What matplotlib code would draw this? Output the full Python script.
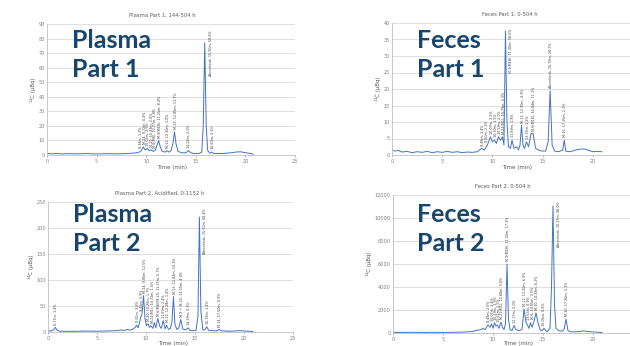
import numpy as np
import matplotlib
matplotlib.use("Agg")
import matplotlib.pyplot as plt

# ---------------- data ----------------
# Plasma Part 1, 144-504 h
p1_time = [0, 0.5, 1, 1.5, 2, 3, 4, 5, 6, 7, 8, 8.5, 9, 9.3, 9.5, 9.7, 9.9, 10.1, 10.3, 10.5,
           10.7, 10.9, 11.1, 11.25, 11.4, 11.6, 11.9, 12.1, 12.3, 12.5, 12.7, 12.85, 13.0, 13.2,
           13.6, 14.0, 14.25, 14.5, 14.8, 15.3, 15.6, 15.75, 15.9, 16.05, 16.2, 16.45, 16.6,
           16.75, 17, 17.5, 18, 18.5, 19, 19.5, 20, 20.5, 20.8]
p1_ubq = [1.2, 0.8, 1.0, 0.7, 0.9, 0.8, 1.0, 0.7, 0.9, 0.8, 1.0, 1.2, 1.5, 2, 3, 5.5, 3.5, 4.5,
          3, 3.5, 2.5, 3, 7, 10, 6, 2.5, 2, 3, 2, 3, 8, 16, 8, 2.5, 1.5, 1.5, 3, 1.5, 1, 1, 2,
          20, 77, 20, 3, 1.2, 2, 1.2, 1, 1, 1.2, 1.5, 2, 2.2, 1.6, 1, 0.5]
p1_labels = ["9.38m, 1.3%", "M-24, 9.72m, 4.4%", "10.05m, 2.5%", "M-20, 10.43m, 2.0%",
             "M-6(M8), 10.77m, 1.8%", "M-9(M18), 11.25m, 8.4%", "M-11, 12.10m, 1.0%",
             "M-13, 12.85m, 11.7%", "14.28m, 2.0%", "Abrocitinib, 15.90m, 58.6%",
             "16.60m, 2.2%"]
p1_label_time = [9.4, 9.75, 10.1, 10.45, 10.8, 11.25, 12.1, 12.85, 14.25, 15.9, 16.6]

# Feces Part 1, 0-504 h
f1_time = [0, 0.3, 0.6, 1, 1.5, 2, 2.5, 3, 3.5, 4, 4.5, 5, 5.5, 6, 6.5, 7, 7.5, 8, 8.5, 8.9,
           9.2, 9.5, 9.8, 10.0, 10.2, 10.4, 10.6, 10.8, 11.0, 11.15, 11.3, 11.45, 11.6, 11.8,
           11.95, 12.15, 12.4, 12.6, 12.75, 12.9, 13.05, 13.2, 13.4, 13.6, 13.85, 14.05, 14.3,
           14.6, 14.9, 15.3, 15.55, 15.75, 15.95, 16.2, 16.6, 17.0, 17.15, 17.3, 17.6, 18,
           18.4, 18.8, 19.2, 19.6, 20, 20.5, 20.9]
f1_ubq = [1.5, 1.2, 1.4, 0.9, 1.1, 0.7, 1.0, 0.8, 1.1, 0.7, 1.0, 0.8, 1.1, 0.8, 1.0, 0.7, 0.9,
          0.8, 1.0, 2, 1.5, 3, 5.5, 4, 4.5, 3.5, 5.5, 4.5, 5.5, 3, 37.5, 10, 2.5, 2, 4.5, 2,
          2.5, 1.5, 3, 9, 3, 2, 4, 2.5, 6.5, 6.5, 2, 1.5, 1.2, 1.2, 4, 19.5, 3, 1.2, 1.0, 1.5,
          4.5, 1.2, 1.0, 1.2, 1.6, 1.8, 1.8, 1.4, 1.0, 1.1, 1.0]
f1_labels = ["9.48m, 1.4%", "9.80m, 2.1%", "10.07m, 2.2%", "10.30m, 1.5%",
             "10.59m, 2.0%", "M-22(M1), 10.79m, 4.3%", "M-9(M18), 11.30m, 38.5%",
             "11.89m, 1.8%", "M-11, 12.90m, 4.3%", "13.38m, 1.2%",
             "M-6(M16), 14.04m, 11.1%", "Abrocitinib, 15.75m, 26.7%", "M-16, 17.15m, 2.1%"]
f1_label_time = [9.0, 9.4, 9.8, 10.2, 10.6, 11.0, 11.3, 11.95, 12.9, 13.4, 14.05, 15.75, 17.15]

# Plasma Part 2, Acidified, 0-1152 h
p2_time = [0, 0.3, 0.55, 0.75, 0.95, 1.2, 1.6, 2, 3, 4, 5, 6, 7, 7.5, 7.8, 8.1, 8.4, 8.7, 8.9,
           9.05, 9.2, 9.45, 9.6, 9.75, 9.9, 10.05, 10.2, 10.35, 10.5, 10.7, 10.85, 11.0, 11.2,
           11.4, 11.55, 11.75, 11.95, 12.1, 12.3, 12.5, 12.65, 12.8, 12.95, 13.15, 13.35,
           13.55, 13.75, 14.0, 14.3, 14.5, 14.8, 15.1, 15.3, 15.45, 15.6, 15.8, 16.0, 16.2,
           16.4, 16.8, 17.2, 17.45, 17.7, 18, 18.5, 19, 19.5, 20, 20.5, 20.9]
p2_ubq = [2, 2, 4, 9, 3, 1.5, 1.5, 1.2, 1.5, 1.8, 1.5, 2, 2.5, 4, 3, 5, 3.5, 6, 9, 13, 8, 27,
          35, 70, 25, 12, 16, 9, 12, 7, 18, 8, 26, 11, 7, 22, 6, 13, 5, 7, 20, 68, 15, 5, 8,
          24, 6, 4, 8, 3, 2.5, 3, 30, 221, 40, 4, 4, 10, 3, 2.5, 2, 5, 2, 2, 1.5, 2, 2.5, 2,
          1.5, 1]
p2_labels = ["0.77m, 1.4%", "9.00m, 3.8%", "9.45m, 5.9%", "M-24, 9.85m, 12.5%",
             "M-20, 10.26m, 1.7%", "M-22(M1), 10.72m, 1.5%", "M-6(M8)/M-20, 11.37m, 5.7%",
             "11.69m, 2.4%", "M-11, 12.28m, 1.4%", "M-13, 12.83m, 13.3%",
             "M-9 + M-15, 13.55m, 4.0%", "14.39m, 0.3%", "Abrocitinib, 15.50m, 68.4%",
             "16.18m, 1.4%", "M-14, 17.50m, 0.5%"]
p2_label_time = [0.75, 9.05, 9.45, 9.8, 10.2, 10.6, 11.2, 11.75, 12.1, 12.8, 13.55, 14.3,
                 15.45, 16.2, 17.45]

# Feces Part 2, 0-504 h
f2_time = [0, 1, 2, 3, 4, 5, 6, 7, 7.5, 8, 8.5, 8.8, 9.0, 9.2, 9.5, 9.7, 9.85, 10.0, 10.15,
           10.3, 10.45, 10.6, 10.8, 10.95, 11.1, 11.25, 11.4, 11.55, 11.7, 11.9, 12.1, 12.3,
           12.6, 12.9, 13.1, 13.3, 13.45, 13.6, 13.75, 13.9, 14.1, 14.3, 14.5, 14.7, 14.9,
           15.1, 15.4, 15.7, 15.85, 16.0, 16.15, 16.3, 16.6, 16.9, 17.1, 17.3, 17.5, 17.8,
           18.2, 18.6, 19, 19.4, 19.8, 20.2, 20.6, 20.9]
f2_ubq = [60, 50, 60, 50, 60, 50, 60, 80, 100, 150, 250, 300, 400, 300, 700, 500, 800, 400,
          900, 600, 700, 400, 950, 500, 300, 800, 6000, 1200, 300, 200, 650, 300, 200, 300,
          2100, 900, 700, 400, 900, 500, 1000, 1750, 900, 300, 200, 400, 100, 400, 4000,
          11050, 2500, 400, 200, 150, 300, 1200, 200, 100, 100, 120, 180, 150, 100, 80, 60, 40]
f2_labels = ["9.48m, 2.6%", "10.07m, 2.4%", "10.29m, 1.9%", "10.61m, 2.5%",
             "M-22(M1), 10.88m, 3.6%", "M-9(M18), 11.50m, 17.3%", "12.17m, 2.0%",
             "M-11, 13.20m, 6.0%", "13.63m, 0.9%", "M-6, 14.05m, 3.5%",
             "M-10, 14.39m, 6.2%", "15.06m, 0.6%", "Abrocitinib, 16.17m, 48.0%",
             "M-16, 17.30m, 3.1%"]
f2_label_time = [9.5, 9.85, 10.15, 10.45, 10.8, 11.4, 12.1, 13.1, 13.45, 13.9, 14.3, 15.0,
                 16.0, 17.3]

titles = ["Plasma Part 1, 144-504 h", "Feces Part 1, 0-504 h",
          "Plasma Part 2, Acidified, 0-1152 h", "Feces Part 2, 0-504 h"]
overlay = ["Plasma\nPart 1", "Feces\nPart 1", "Plasma\nPart 2", "Feces\nPart 2"]
y_max = [90, 40, 250, 12000]
y_step = [10, 5, 50, 2000]
x_tick_max = [25, 20, 25, 20]

# ---------------- drawing ----------------
W, H = 630, 346
fig = plt.figure(figsize=(W / 100, H / 100), dpi=100)
plt.rcParams['font.family'] = ['DejaVu Sans']


def px_axes(l, r, t, b):
    return [l / W, 1 - b / H, (r - l) / W, (b - t) / H]


rects = [px_axes(47, 295, 24, 155), px_axes(392, 643, 23, 155),
         px_axes(48, 293, 202, 332), px_axes(393, 643, 195, 333)]
title_xy = [(162, 15), (510, 14), (160, 193), (503, 186)]
overlay_xy = [(72, 29), (417, 29), (73, 203), (417, 203)]

series = [(p1_time, p1_ubq, p1_labels, p1_label_time),
          (f1_time, f1_ubq, f1_labels, f1_label_time),
          (p2_time, p2_ubq, p2_labels, p2_label_time),
          (f2_time, f2_ubq, f2_labels, f2_label_time)]

line_col = '#4472C4'
grid_col = '#d9d9d9'
tick_col = '#808080'
all_ann = []
for i, (t, v, labs, lt) in enumerate(series):
    ax = fig.add_axes(rects[i])
    t = np.asarray(t, float)
    v = np.asarray(v, float)
    ax.plot(t, v, color=line_col, lw=0.7)
    ax.set_xlim(0, 25)
    ax.set_ylim(0, y_max[i])
    ax.set_xticks(range(0, x_tick_max[i] + 1, 5))
    ax.set_yticks(np.arange(0, y_max[i] + 1e-9, y_step[i]))
    ax.grid(axis='y', color=grid_col, lw=0.6)
    ax.set_axisbelow(True)
    for s in ['top', 'right']:
        ax.spines[s].set_visible(False)
    for s in ['left', 'bottom']:
        ax.spines[s].set_color('#bfbfbf')
        ax.spines[s].set_linewidth(0.6)
    ax.tick_params(axis='both', labelsize=3.6, colors=tick_col, length=1.5, width=0.4, pad=1.5)
    ax.tick_params(axis='y', length=0)
    ax.set_ylabel('¹⁴C (µBq)', fontsize=4, color='#595959', labelpad=2)
    # x-axis title placed just below the tick labels
    bottom_px = H - (rects[i][1] * H)
    xl_y = min(bottom_px + 12, H - 3)
    fig.text((rects[i][0] * W + 125) / W if i % 2 == 0 else (rects[i][0] * W + 125) / W,
             1 - xl_y / H, 'Time (min)', ha='center', va='center', fontsize=4,
             color='#595959')
    for txt, tt in zip(labs, lt):
        m = np.abs(t - tt) <= 0.2
        pk = v[m].max() if m.any() else np.interp(tt, t, v)
        a = ax.annotate(txt, (tt, pk), xytext=(0.8, 2.0), textcoords='offset points',
                        rotation=90, ha='center', va='bottom', fontsize=2.4,
                        color='#404040')
        all_ann.append((ax, a))
    tx, ty = title_xy[i]
    fig.text(tx / W, 1 - ty / H, titles[i], ha='center', va='center',
             fontsize=3.8, color='#595959')
    ox, oy = overlay_xy[i]
    fig.text(ox / W, 1 - oy / H, overlay[i], ha='left', va='top', fontsize=18,
             fontweight='bold', family=['Lato', 'DejaVu Sans'], color='#17456B',
             linespacing=1.32)

# keep labels inside plot area (move clamped ones beside the peak)
fig.canvas.draw()
r = fig.canvas.get_renderer()
for ax, a in all_ann:
    top = ax.get_window_extent(r).y1
    bb = a.get_window_extent(r)
    if bb.y1 > top - 6:
        shift = (bb.y1 - (top - 6)) * 72 / fig.dpi
        x0, y0 = a.xyann
        a.xyann = (x0 + 3.5, y0 - shift)

fig.savefig('out.png', dpi=100)
